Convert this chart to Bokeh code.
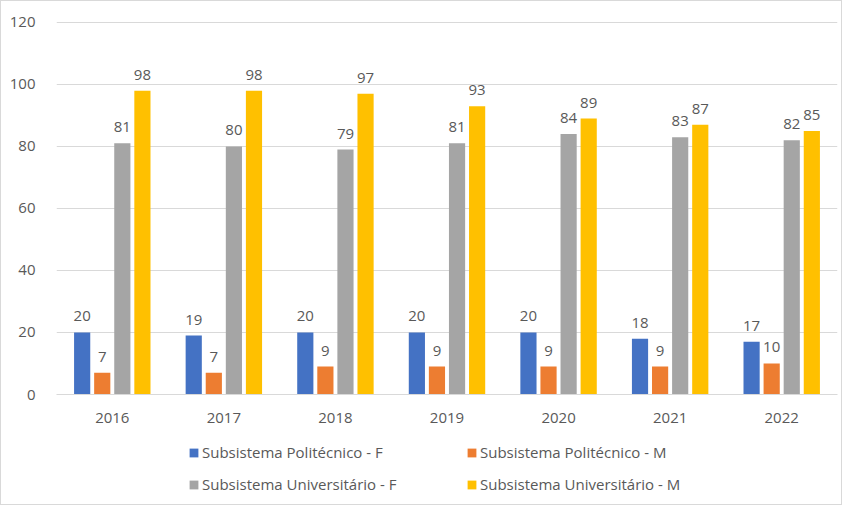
from bokeh.plotting import figure
from bokeh.models import ColumnDataSource, FactorRange, Range1d, Legend, LegendItem, LabelSet, FixedTicker
from bokeh.layouts import column
from bokeh.transform import dodge
from bokeh.core.properties import value
from bokeh.embed import file_html
from bokeh.resources import INLINE

years = ["2016", "2017", "2018", "2019", "2020", "2021", "2022"]
poli_f = [20, 19, 20, 20, 20, 18, 17]
poli_m = [7, 7, 9, 9, 9, 9, 10]
uni_f = [81, 80, 79, 81, 84, 83, 82]
uni_m = [98, 98, 97, 93, 89, 87, 85]
series_names = ["Subsistema Politécnico - F", "Subsistema Politécnico - M",
                "Subsistema Universitário - F", "Subsistema Universitário - M"]
colors = ["#4472C4", "#ED7D31", "#A5A5A5", "#FFC000"]
y_ticks = [0, 20, 40, 60, 80, 100, 120]

FONT = "Open Sans"
TXT = "#595959"

src = ColumnDataSource(dict(years=years, pf=poli_f, pm=poli_m, uf=uni_f, um=uni_m))
cols = ["pf", "pm", "uf", "um"]
offsets = [-0.27, -0.09, 0.09, 0.27]

p = figure(x_range=FactorRange(*years), y_range=Range1d(0, 120.3),
           width=840, height=433, output_backend="svg", toolbar_location=None,
           min_border_left=55, min_border_right=4, min_border_top=20, min_border_bottom=40)

for off, col, c in zip(offsets, cols, colors):
    p.vbar(x=dodge("years", off, range=p.x_range), top=col, width=0.145,
           source=src, fill_color=c, line_color=None)
    lbl = LabelSet(x=dodge("years", off, range=p.x_range), y=col, text=col, source=src,
                   text_align="center", text_baseline="bottom", y_offset=11,
                   text_font=value(FONT), text_font_size="15px", text_color=TXT)
    p.add_layout(lbl)

p.outline_line_color = None
p.xgrid.grid_line_color = None
p.ygrid.grid_line_color = "#d9d9d9"
p.ygrid.grid_line_width = 1
p.yaxis.ticker = FixedTicker(ticks=y_ticks)
for ax in (p.xaxis, p.yaxis):
    ax.axis_line_color = None
    ax.major_tick_line_color = None
    ax.minor_tick_line_color = None
    ax.major_label_text_font = FONT
    ax.major_label_text_font_size = "15px"
    ax.major_label_text_color = TXT
p.yaxis.major_label_standoff = 15
p.xaxis.major_label_standoff = 12
p.xaxis.axis_line_color = "#d9d9d9"

# legend panel (zero-width bars, so only the legend swatches show)
q = figure(width=840, height=70, output_backend="svg", toolbar_location=None,
           x_range=FactorRange(*years), y_range=Range1d(-200, -199), min_border=0,
           x_axis_type=None, y_axis_type=None)
q.grid.visible = False
q.outline_line_color = None
rends = {}
for off, col, c, n in zip(offsets, cols, colors, series_names):
    rends[n] = q.vbar(x=dodge("years", off, range=q.x_range), top=col, width=0,
                      source=src, fill_color=c, line_color=None)
order = [series_names[0], series_names[2], series_names[1], series_names[3]]
items = [LegendItem(label=n, renderers=[rends[n]]) for n in order]
legend = Legend(items=items, ncols=2, location=(132, 10), label_width=252, label_height=20,
                glyph_width=11, glyph_height=11, spacing=12, padding=0, margin=0,
                label_standoff=3, border_line_color=None, background_fill_alpha=0,
                label_text_font=FONT, label_text_font_size="15px", label_text_color=TXT)
q.add_layout(legend, "center")

layout = column(p, q, spacing=0)
layout.styles = {"border": "1px solid #d9d9d9"}

open("out.html", "w").write(file_html(layout, INLINE))
